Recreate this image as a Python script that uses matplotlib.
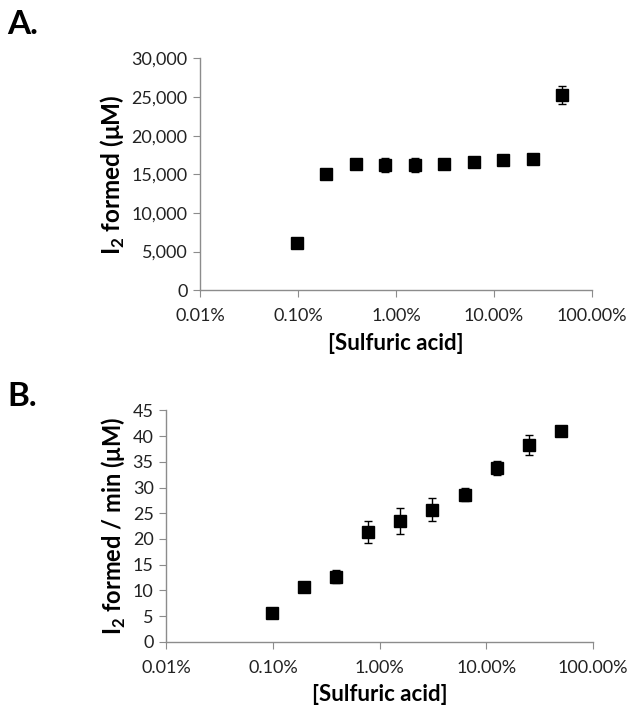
import numpy as np
import matplotlib
matplotlib.use("Agg")
import matplotlib.pyplot as plt
from matplotlib.ticker import FuncFormatter, FixedLocator, NullLocator

plt.rcParams['font.family'] = ['Lato', 'DejaVu Sans']
plt.rcParams['mathtext.fontset'] = 'custom'
plt.rcParams['mathtext.rm'] = 'Lato'
plt.rcParams['mathtext.bf'] = 'Lato:bold'

# sulfuric acid concentration, %
acid = [0.0977, 0.195, 0.39, 0.78, 1.5625, 3.125, 6.25, 12.5, 25, 50]

# panel A: I2 formed (uM)
i2_total = [6100, 15100, 16350, 16200, 16200, 16300, 16650, 16800, 17000, 25300]
i2_total_err = [150, 600, 250, 950, 900, 250, 250, 250, 250, 1200]

# panel B: I2 formed per min (uM)
i2_rate = [5.6, 10.6, 12.7, 21.3, 23.5, 25.7, 28.6, 33.8, 38.3, 41.0]
i2_rate_err = [0.3, 0.8, 1.2, 2.1, 2.6, 2.2, 1.3, 1.3, 1.9, 0.3]

xticks = [0.01, 0.1, 1, 10, 100]
xticklabels = ['0.01%', '0.10%', '1.00%', '10.00%', '100.00%']

fig = plt.figure(figsize=(6.27, 7.13), dpi=100)
axA = fig.add_axes([0.319, 0.593, 0.625, 0.325])
axB = fig.add_axes([0.265, 0.0996, 0.681, 0.325])

grey = '#8c8c8c'


def style(ax):
  ax.set_xscale('log')
  ax.set_xlim(0.01, 100)
  ax.xaxis.set_major_locator(FixedLocator(xticks))
  ax.xaxis.set_minor_locator(NullLocator())
  ax.set_xticklabels(xticklabels)
  for s in ['top', 'right']:
    ax.spines[s].set_visible(False)
  for s in ['left', 'bottom']:
    ax.spines[s].set_color(grey)
    ax.spines[s].set_linewidth(1.0)
  ax.tick_params(axis='both', which='major', direction='out', length=5,
                 color=grey, labelsize=13, labelcolor='#222222')
  ax.tick_params(axis='x', pad=8)
  ax.tick_params(axis='y', pad=4)
  ax.set_xlabel('[Sulfuric acid]', fontsize=16, fontweight='bold', labelpad=6)


axA.errorbar(acid, i2_total, yerr=i2_total_err, fmt='s', color='black',
             markersize=8, ecolor='black', elinewidth=1, capsize=3, capthick=1)
style(axA)
axA.set_ylim(0, 30000)
axA.set_yticks(np.arange(0, 30001, 5000))
axA.yaxis.set_major_formatter(FuncFormatter(lambda v, p: '{:,.0f}'.format(v)))
axA.set_ylabel(r'I$_\mathbf{2}$ formed (μM)', fontsize=17.5, fontweight='bold', labelpad=3)

axB.errorbar(acid, i2_rate, yerr=i2_rate_err, fmt='s', color='black',
             markersize=8, ecolor='black', elinewidth=1, capsize=3, capthick=1)
style(axB)
axB.set_ylim(0, 45)
axB.set_yticks(np.arange(0, 46, 5))
axB.set_ylabel(r'I$_\mathbf{2}$ formed / min (μM)', fontsize=17, fontweight='bold', labelpad=3)

fig.text(0.012, 0.952, 'A.', fontsize=24, fontweight='bold')
fig.text(0.012, 0.43, 'B.', fontsize=24, fontweight='bold')

plt.savefig('out.png', dpi=100)
